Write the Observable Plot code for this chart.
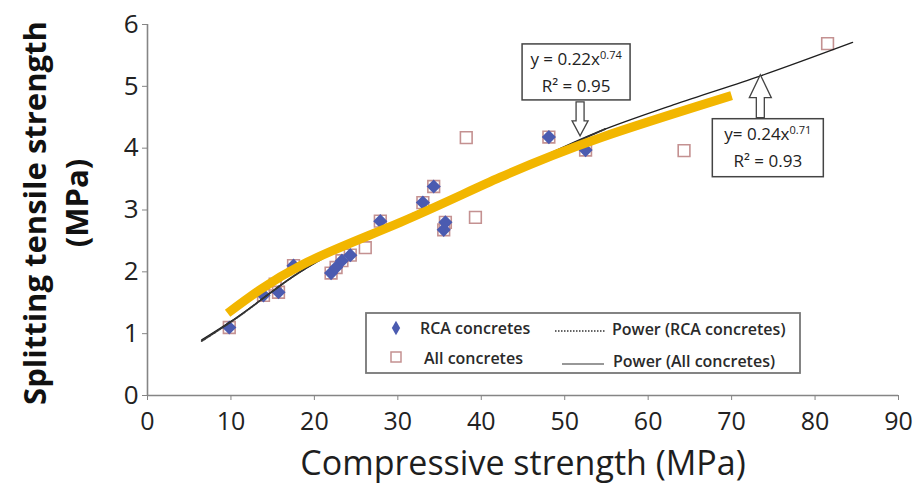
<!DOCTYPE html>
<html><head><meta charset="utf-8">
<script src="https://cdn.jsdelivr.net/npm/d3@7"></script>
<script src="https://cdn.jsdelivr.net/npm/@observablehq/plot@0.6"></script>
<style>
body{margin:0;background:#fff;}
#wrap{position:relative;width:918px;height:489px;}
</style></head><body><div id="wrap"></div>
<script>
// RCA concretes (blue diamonds)
const rcaPoints = [
  [9.8,1.1],[13.9,1.62],[15.7,1.67],[17.5,2.1],[22.0,1.98],[22.6,2.07],[23.3,2.18],
  [24.3,2.27],[27.9,2.82],[33.0,3.12],[34.3,3.38],[35.5,2.68],[35.7,2.8],[48.1,4.18],[52.5,3.97]
];
// additional points of "All concretes" (open squares also drawn on every RCA point)
const otherPoints = [
  [15.3,1.8],[26.1,2.39],[38.2,4.17],[39.3,2.88],[64.3,3.96],[81.5,5.69]
];
// trend lines
const powerAll = [[6.5,0.9],[10,1.2],[18.3,2.0],[26.4,2.6],[34,3.07],[42.3,3.55],[54.3,4.28],[63,4.7],[73.5,5.17],[84.5,5.71]];
const powerRCA = [[6.5,0.88],[10,1.19],[18.3,2.0],[26.4,2.6],[34,3.07],[42.3,3.55],[55,4.32]];
const yellowFit = [[9.6,1.33],[18.3,2.1],[30.3,2.8],[42.3,3.53],[54.3,4.17],[70,4.85]];

const xTicks = [0,10,20,30,40,50,60,70,80,90];
const yTicks = [0,1,2,3,4,5,6];
const xTitle = "Compressive strength (MPa)";
const yTitle1 = "Splitting tensile strength";
const yTitle2 = "(MPa)";
const legendItems = ["RCA concretes","All concretes","Power (RCA concretes)","Power (All concretes)"];
const annotations = [
  {eq:"y = 0.22x", exp:"0.74", r2:"R² = 0.95", tipX:51.9, tipY:4.19, dir:"down"},
  {eq:"y= 0.24x", exp:"0.71", r2:"R² = 0.93", tipX:73.5, tipY:5.18, dir:"up"}
];

const allPoints = rcaPoints.concat(otherPoints);
const font = "'Open Sans', sans-serif";

const chart = Plot.plot({
  width: 918, height: 489,
  marginLeft: 147, marginRight: 20, marginTop: 24, marginBottom: 94,
  x: {domain: [0, 90]},
  y: {domain: [0, 6]},
  style: {fontFamily: font, background: "#fff"},
  marks: [
    Plot.ruleY([0], {stroke: "#858585", strokeWidth: 1.6}),
    Plot.ruleX([0], {stroke: "#858585", strokeWidth: 1.6}),
    Plot.axisX({ticks: xTicks, tickFormat: d => String(d), tickSize: 5, tickPadding: 12, fontSize: 25, fill: "#222", stroke: "#858585", label: null}),
    Plot.axisY({ticks: yTicks, tickFormat: d => String(d), tickSize: 5, tickPadding: 4, fontSize: 26, fill: "#222", stroke: "#858585", label: null}),
    Plot.dot(allPoints, {x: d => d[0], y: d => d[1], symbol: "square", r: 6.6, stroke: "#c49191", strokeWidth: 1.6, fill: "none"}),
    Plot.dot(rcaPoints, {x: d => d[0], y: d => d[1], symbol: "diamond2", r: 6.4, fill: "#4b5bb0"}),
    Plot.line(powerAll, {x: d => d[0], y: d => d[1], stroke: "#1e1e1e", strokeWidth: 1.3, curve: "monotone-x"}),
    Plot.line(powerRCA, {x: d => d[0], y: d => d[1], stroke: "#333", strokeWidth: 1.8, strokeDasharray: "1.5,1.5", curve: "monotone-x"}),
    Plot.line(yellowFit, {x: d => d[0], y: d => d[1], stroke: "#f2b600", strokeWidth: 9, curve: "natural", strokeLinecap: "butt"}),
    Plot.text([xTitle], {text: d => d, frameAnchor: "bottom", textAnchor: "middle", dy: 69, fontSize: 34, fill: "#1e1e1e", lineAnchor: "middle"}),
    Plot.text([yTitle1], {text: d => d, frameAnchor: "left", textAnchor: "middle", dx: -111, dy: 3, rotate: -90, fontSize: 31, fontWeight: "bold", fill: "#111", lineAnchor: "middle"}),
    Plot.text([yTitle2], {text: d => d, frameAnchor: "left", textAnchor: "middle", dx: -69, dy: -7, rotate: -90, fontSize: 31, fontWeight: "bold", fill: "#111", lineAnchor: "middle"})
  ]
});
document.getElementById("wrap").appendChild(chart);

const sx = chart.scale("x"), sy = chart.scale("y");
const svg = d3.select(chart);
const g = svg.append("g").attr("font-family", font);

// annotations with hollow block arrows
annotations.forEach(a => {
  const tx = sx.apply(a.tipX), ty = sy.apply(a.tipY);
  let bx, by, bw, bh, arrow;
  if (a.dir === "down") {
    bw = 108; bh = 56; bx = tx - 58; by = ty - 92;
    const s0 = by + bh + 2, h0 = ty - 15;
    arrow = [[tx-4,s0],[tx+4,s0],[tx+4,h0],[tx+8,h0],[tx,ty],[tx-8,h0],[tx-4,h0]];
  } else {
    bw = 111; bh = 58; bx = tx - 48; by = ty + 44;
    const s0 = by - 1, h0 = ty + 23;
    arrow = [[tx-4,s0],[tx+4,s0],[tx+4,h0],[tx+11,h0],[tx,ty],[tx-11,h0],[tx-4,h0]];
  }
  g.append("rect").attr("x", bx).attr("y", by).attr("width", bw).attr("height", bh)
    .attr("fill", "#fff").attr("stroke", "#444").attr("stroke-width", 1.5);
  g.append("polygon").attr("points", arrow.map(p => p.join(",")).join(" "))
    .attr("fill", "#fff").attr("stroke", "#444").attr("stroke-width", 1.3);
  const t1 = g.append("text").attr("x", bx + bw/2).attr("y", by + 21).attr("text-anchor", "middle")
    .attr("font-size", 17).attr("font-weight", 500).attr("fill", "#222");
  t1.append("tspan").text(a.eq);
  t1.append("tspan").attr("font-size", 11).attr("dy", -6).text(a.exp);
  g.append("text").attr("x", bx + bw/2).attr("y", by + 48).attr("text-anchor", "middle")
    .attr("font-size", 17).attr("font-weight", 500).attr("fill", "#222").text(a.r2);
});

// legend box
const L = {x: 366, y: 313, w: 434, h: 60};
const lg = g.append("g").attr("font-size", 16).attr("font-weight", 600).attr("fill", "#2a2a2a").attr("text-anchor", "start");
lg.append("rect").attr("x", L.x).attr("y", L.y).attr("width", L.w).attr("height", L.h)
  .attr("fill", "#fff").attr("stroke", "#777").attr("stroke-width", 1.8);
lg.append("path").attr("d", d3.symbol(d3.symbolDiamond, 60)()).attr("transform", `translate(396,328)`).attr("fill", "#4b5bb0");
lg.append("rect").attr("x", 391).attr("y", 352).attr("width", 10).attr("height", 10).attr("fill", "none").attr("stroke", "#c49191").attr("stroke-width", 1.5);
lg.append("text").attr("x", 420).attr("y", 334).text(legendItems[0]);
lg.append("text").attr("x", 424).attr("y", 364).text(legendItems[1]);
lg.append("line").attr("x1", 555).attr("x2", 606).attr("y1", 331).attr("y2", 331).attr("stroke", "#333").attr("stroke-width", 1.5).attr("stroke-dasharray", "1.5,1.5");
lg.append("line").attr("x1", 562).attr("x2", 604).attr("y1", 364).attr("y2", 364).attr("stroke", "#333").attr("stroke-width", 1.2);
lg.append("text").attr("x", 612).attr("y", 335).text(legendItems[2]);
lg.append("text").attr("x", 613).attr("y", 367).text(legendItems[3]);
</script></body></html>
